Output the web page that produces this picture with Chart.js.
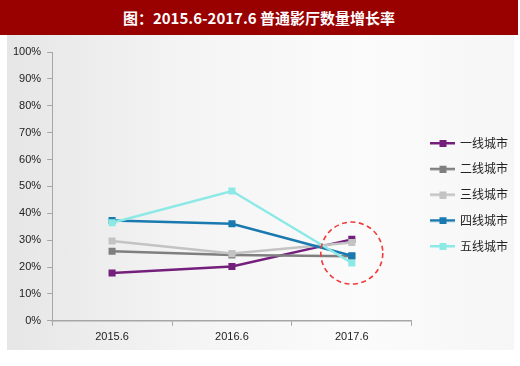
<!DOCTYPE html>
<html>
<head>
<meta charset="utf-8">
<script src="https://cdn.jsdelivr.net/npm/chart.js@4/dist/chart.umd.min.js"></script>
<style>
  html, body { margin: 0; padding: 0; background: #fff; }
  #wrap { position: relative; width: 520px; height: 366px; overflow: hidden; }
  #title {
    position: absolute; left: 0; top: 0; width: 518px; height: 35px;
    background: #990000; color: #fff; text-align: center;
    font: bold 15px "Noto Sans CJK SC", "Liberation Sans", sans-serif; line-height: 35px;
  }
  #panel {
    position: absolute; left: 7px; top: 35px; width: 507px; height: 315px;
    background: linear-gradient(to right, #e6e6e6 0%, #f4f4f4 35%, #fbfbfb 70%, #f6f6f6 100%);
  }
  #chart { position: absolute; left: 0; top: 0; }
</style>
</head>
<body>
<div id="wrap">
  <div id="title">图：2015.6-2017.6 普通影厅数量增长率</div>
  <div id="panel"></div>
  <canvas id="chart" width="520" height="366"></canvas>
</div>
<script>
const categories = ['2015.6', '2016.6', '2017.6'];
const seriesNames = ['一线城市', '二线城市', '三线城市', '四线城市', '五线城市'];
const tier1 = [17.8, 20.2, 30.3];
const tier2 = [25.9, 24.5, 24.0];
const tier3 = [29.7, 25.0, 29.1];
const tier4 = [37.3, 36.1, 24.2];
const tier5 = [36.5, 48.3, 21.5];
const colors = ['#741f7c', '#7f7f7f', '#c3c3c3', '#1a7ab0', '#8ce9e5'];
const yTicks = [0, 10, 20, 30, 40, 50, 60, 70, 80, 90, 100];
// highlight circle around the last category
const highlightIndex = 2;
const highlightValue = 25.2;

const allSeries = [tier1, tier2, tier3, tier4, tier5];

// small line + square icon for each legend entry
function makeIcon(color) {
    const c = document.createElement('canvas');
    c.width = 25; c.height = 8;
    const g = c.getContext('2d');
    g.fillStyle = color;
    g.fillRect(0, 3, 25, 2.5);
    g.fillRect(9, 1, 7, 7);
    return c;
}
const icons = colors.map(makeIcon);

const highlightCircle = {
    id: 'highlightCircle',
    afterDatasetsDraw(chart) {
        const x = chart.scales.x.getPixelForValue(highlightIndex);
        const y = chart.scales.y.getPixelForValue(highlightValue);
        const ctx = chart.ctx;
        ctx.save();
        ctx.strokeStyle = '#f23a3a';
        ctx.lineWidth = 1.6;
        ctx.setLineDash([5, 3.5]);
        ctx.beginPath();
        ctx.arc(x, y, 31, 0, Math.PI * 2);
        ctx.stroke();
        ctx.restore();
    }
};

// nudge the legend block to where it sits in the original
const legendNudge = {
    id: 'legendNudge',
    afterLayout(chart) {
        const lg = chart.legend;
        lg.left += 6.5; lg.right += 6.5;
        lg.top -= 6; lg.bottom -= 6;
    }
};

const datasets = allSeries.map((data, i) => ({
    label: seriesNames[i],
    data,
    borderColor: colors[i],
    backgroundColor: colors[i],
    borderWidth: 2.5,
    pointStyle: 'rect',
    pointRadius: 5,
    pointHoverRadius: 5,
    pointBorderWidth: 0,
    tension: 0,
    order: allSeries.length - i
}));

new Chart(document.getElementById('chart'), {
    type: 'line',
    data: { labels: categories, datasets },
    options: {
        responsive: false,
        animation: false,
        events: [],
        layout: { padding: { left: 7, top: 52, right: 8.5, bottom: 17 } },
        scales: {
            x: {
                offset: true,
                grid: { display: true, drawOnChartArea: false, offset: true, tickLength: 5, color: '#a6a6a6' },
                border: { color: '#a6a6a6', width: 1.5 },
                ticks: { color: '#222', padding: 5, font: { family: 'Liberation Sans', size: 11 } }
            },
            y: {
                min: 0,
                max: 100,
                afterBuildTicks: axis => { axis.ticks = yTicks.map(v => ({ value: v })); },
                grid: { display: true, drawOnChartArea: false, tickLength: 5, color: '#a6a6a6' },
                border: { color: '#a6a6a6', width: 1 },
                ticks: {
                    color: '#222', padding: 6,
                    font: { family: 'Liberation Sans', size: 11 },
                    callback: v => v + '%'
                }
            }
        },
        plugins: {
            tooltip: { enabled: false },
            legend: {
                position: 'right',
                labels: {
                    usePointStyle: true,
                    pointStyleWidth: 22,
                    padding: 13.75,
                    color: '#222',
                    font: { family: 'Noto Sans CJK SC', size: 12 },
                    sort: (a, b) => a.datasetIndex - b.datasetIndex,
                    generateLabels: chart =>
                        Chart.defaults.plugins.legend.labels.generateLabels(chart)
                            .map(item => ({ ...item, pointStyle: icons[item.datasetIndex] }))
                }
            }
        }
    },
    plugins: [highlightCircle, legendNudge]
});
</script>
</body>
</html>
